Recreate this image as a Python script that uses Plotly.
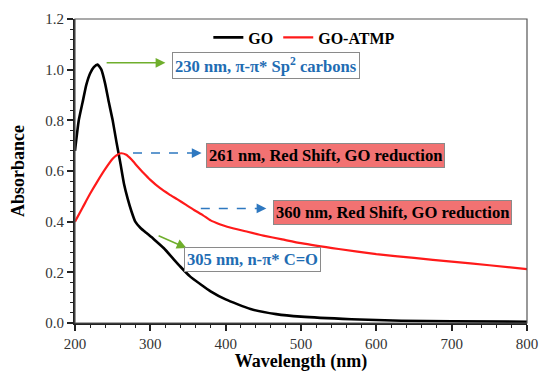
import plotly.graph_objects as go

# Data
go_x = [200, 205, 210, 215, 220, 225, 230, 235, 240, 245, 250, 255, 260, 265, 270, 275, 280,
        287, 295, 305, 318, 330, 340, 353, 367, 380, 400, 433, 467, 500, 567, 633, 700, 800]
go_y = [0.68, 0.80, 0.87, 0.94, 0.985, 1.01, 1.02, 1.0, 0.945, 0.87, 0.80, 0.715, 0.635, 0.55,
        0.49, 0.44, 0.40, 0.375, 0.355, 0.33, 0.295, 0.255, 0.222, 0.183, 0.152, 0.125, 0.093,
        0.055, 0.035, 0.025, 0.015, 0.009, 0.007, 0.005]

atmp_x = [200, 210, 220, 230, 240, 250, 255, 261, 268, 275, 283, 291, 300, 313, 325, 336, 347,
          358, 370, 380, 392, 402, 429, 450, 475, 500, 550, 600, 650, 700, 750, 800]
atmp_y = [0.40, 0.455, 0.51, 0.56, 0.607, 0.648, 0.662, 0.67, 0.664, 0.645, 0.618, 0.592, 0.565,
          0.532, 0.508, 0.488, 0.467, 0.446, 0.425, 0.405, 0.39, 0.38, 0.36, 0.345, 0.33, 0.315,
          0.292, 0.272, 0.257, 0.242, 0.228, 0.213]

x_ticks = [200, 300, 400, 500, 600, 700, 800]
y_ticks = [0.0, 0.2, 0.4, 0.6, 0.8, 1.0, 1.2]

SERIF = "Liberation Serif"
GREEN = "#6fae2c"
BLUE = "#2e78c0"
TXT_BLUE = "#1f6db3"
BOX_RED = "#f27272"

fig = go.Figure()
fig.add_trace(go.Scatter(x=go_x, y=go_y, mode="lines", name="GO",
                         line=dict(color="black", width=2.6, shape="spline", smoothing=0.5)))
fig.add_trace(go.Scatter(x=atmp_x, y=atmp_y, mode="lines", name="GO-ATMP",
                         line=dict(color="#ff1a1a", width=2.2, shape="spline", smoothing=0.5)))

# dashed blue arrows (line + head)
dashed = [((277, 0.671), (362, 0.671)), ((367, 0.452), (448, 0.452))]
for (x0, y0), (x1, y1) in dashed:
    fig.add_shape(type="line", x0=x0, y0=y0, x1=x1, y1=y1, xref="x", yref="y",
                  line=dict(color=BLUE, width=1.5, dash="dash"))
    fig.add_annotation(x=x1 + 6, y=y1, ax=x1 - 4, ay=y1, xref="x", yref="y", axref="x", ayref="y",
                       text="", showarrow=True, arrowhead=2, arrowsize=1.3, arrowwidth=1.5,
                       arrowcolor=BLUE)

# green arrows
fig.add_annotation(x=320, y=1.027, ax=240, ay=1.027, xref="x", yref="y", axref="x", ayref="y",
                   text="", showarrow=True, arrowhead=2, arrowsize=1.3, arrowwidth=1.5,
                   arrowcolor=GREEN)
fig.add_annotation(x=348, y=0.296, ax=309, ay=0.347, xref="x", yref="y", axref="x", ayref="y",
                   text="", showarrow=True, arrowhead=2, arrowsize=1.3, arrowwidth=1.5,
                   arrowcolor=GREEN)

# text boxes
boxes = [
    (453, 1.017, "230 nm, π-π* Sp<sup>2</sup> carbons", TXT_BLUE, "white"),
    (533, 0.661, "261 nm, Red Shift, GO reduction", "black", BOX_RED),
    (622, 0.436, "360 nm, Red Shift, GO reduction", "black", BOX_RED),
    (436, 0.249, "305 nm, n-π* C=O", TXT_BLUE, "white"),
]
for x, y, t, c, bg in boxes:
    fig.add_annotation(x=x, y=y, xref="x", yref="y", text="<b>" + t + "</b>", showarrow=False,
                       font=dict(family=SERIF, size=16.6, color=c), bgcolor=bg,
                       bordercolor="#8a8a8a", borderwidth=1, borderpad=2)

# frame
fig.add_shape(type="rect", xref="paper", yref="paper", x0=0, y0=0, x1=1, y1=1,
              line=dict(color="#555555", width=1.2))

fig.update_layout(
    width=541, height=372,
    margin=dict(l=75, r=14, t=19, b=49),
    paper_bgcolor="white", plot_bgcolor="white",
    font=dict(family=SERIF, size=14, color="#333333"),
    showlegend=True,
    legend=dict(orientation="h", x=0.295, y=0.995, xanchor="left", yanchor="top",
                bgcolor="rgba(0,0,0,0)",
                font=dict(family=SERIF, size=16, color="black", weight="bold"),
                itemwidth=30),
)

fig.update_xaxes(range=[200, 800], tickvals=x_ticks, ticks="outside", ticklen=6, tickwidth=1.5,
                 tickcolor="#222", showline=True, linecolor="#222", linewidth=2, showgrid=False,
                 zeroline=False, automargin=False, tickfont=dict(family=SERIF, size=15, color="#333"),
                 title=dict(text="<b>Wavelength (nm)</b>", font=dict(family=SERIF, size=18, color="black"),
                            standoff=8),
                 minor=dict(dtick=20, tick0=200, ticks="outside", ticklen=3, tickwidth=1.2, tickcolor="#222"))
fig.update_yaxes(range=[0, 1.2], tickvals=y_ticks, tickformat=".1f", ticks="outside", ticklen=6,
                 tickwidth=1.5, tickcolor="#222", showline=True, linecolor="#222", linewidth=2,
                 showgrid=False, zeroline=False, automargin=False,
                 tickfont=dict(family=SERIF, size=15, color="#333"),
                 title=dict(text="<b>Absorbance</b>", font=dict(family=SERIF, size=18, color="black"),
                            standoff=16),
                 minor=dict(dtick=0.04, tick0=0, ticks="outside", ticklen=3, tickwidth=1.2, tickcolor="#222"))

fig.write_html("out.html")
